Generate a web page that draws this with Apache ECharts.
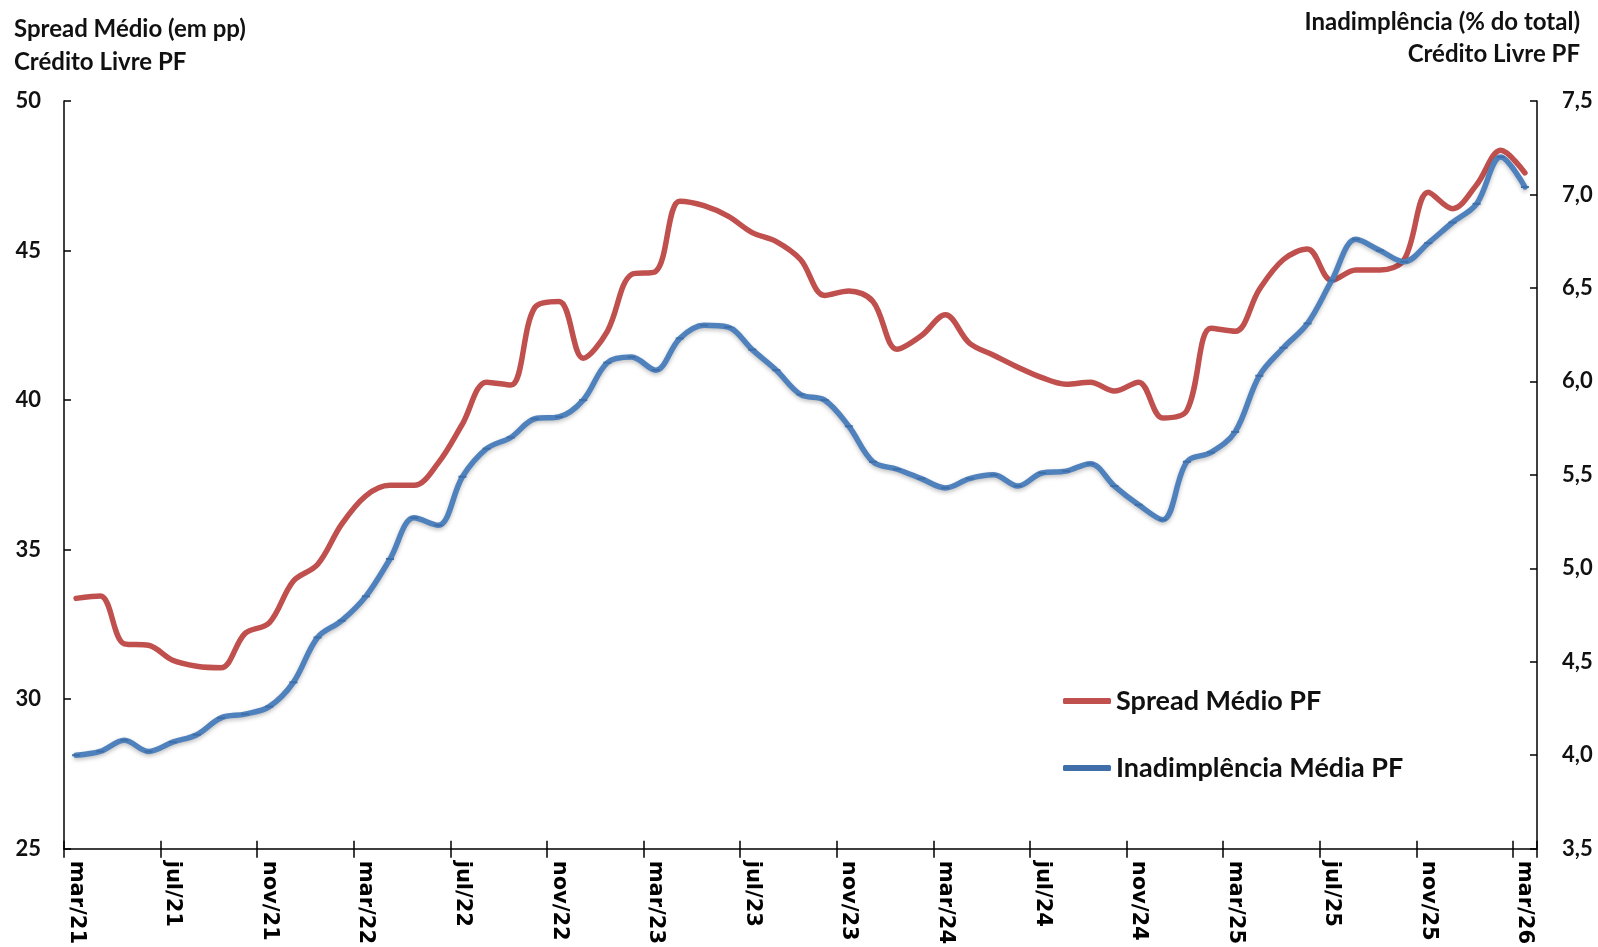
<!DOCTYPE html>
<html>
<head>
<meta charset="utf-8">
<script src="https://cdn.jsdelivr.net/npm/echarts@6/dist/echarts.min.js"></script>
<style>
html,body{margin:0;padding:0;background:#fff;}
#chart{width:1598px;height:947px;}
</style>
</head>
<body>
<div id="chart"></div>
<script>
const months = ['mar/21','abr/21','mai/21','jun/21','jul/21','ago/21','set/21','out/21','nov/21','dez/21',
'jan/22','fev/22','mar/22','abr/22','mai/22','jun/22','jul/22','ago/22','set/22','out/22','nov/22','dez/22',
'jan/23','fev/23','mar/23','abr/23','mai/23','jun/23','jul/23','ago/23','set/23','out/23','nov/23','dez/23',
'jan/24','fev/24','mar/24','abr/24','mai/24','jun/24','jul/24','ago/24','set/24','out/24','nov/24','dez/24',
'jan/25','fev/25','mar/25','abr/25','mai/25','jun/25','jul/25','ago/25','set/25','out/25','nov/25','dez/25',
'jan/26','fev/26','mar/26'];

const spreadMedio = [33.37,33.45,31.85,31.8,31.3,31.1,31.05,32.2,32.55,33.95,34.5,35.85,36.8,37.15,37.15,37.9,39.2,40.6,40.5,43.1,43.3,
41.4,42.3,44.2,44.3,46.65,46.5,46.15,45.6,45.3,44.7,
43.5,43.65,43.3,41.7,42.15,42.85,41.9,41.5,41.1,40.75,
40.53,40.6,40.3,40.6,39.4,39.65,42.4,42.3,43.7,44.7,
45.05,44.0,44.35,44.35,44.7,46.95,46.4,47.2,48.35,47.6];

const inadimplencia = [4.0,4.02,4.08,4.02,4.07,4.11,4.2,4.22,4.26,4.39,4.63,4.72,4.85,5.05,5.27,5.23,5.49,5.64,5.70,5.80,5.81,
5.90,6.10,6.13,6.06,6.23,6.30,6.29,6.17,6.06,5.93,
5.90,5.76,5.57,5.53,5.48,5.43,5.48,5.50,5.44,5.51,
5.52,5.56,5.44,5.34,5.26,5.57,5.62,5.73,6.03,6.18,
6.31,6.54,6.76,6.70,6.64,6.74,6.85,6.95,7.20,7.04];

const leftTicks = [25,30,35,40,45,50];
const rightTicks = ['3,5','4,0','4,5','5,0','5,5','6,0','6,5','7,0','7,5'];

const chart = echarts.init(document.getElementById('chart'), null, {renderer:'canvas'});
const titleFont = {fontFamily:'Lato', fontWeight:'bold', fontSize:24, color:'#111'};
const option = {
  backgroundColor:'#fff',
  animation:false,
  title:[
    {text:'Spread Médio (em pp)', left:14, top:17, padding:0, textStyle:titleFont},
    {text:'Crédito Livre PF', left:14, top:50, padding:0, textStyle:titleFont},
    {text:'Inadimplência (% do total)', right:18, top:10, padding:0, textStyle:titleFont},
    {text:'Crédito Livre PF', right:18, top:42, padding:0, textStyle:titleFont}
  ],
  legend:{
    orient:'vertical', left:1063, top:686, padding:0, itemWidth:48, itemHeight:6, itemGap:37,
    icon:'roundRect',
    textStyle:{fontFamily:'Lato', fontWeight:'bold', fontSize:27, color:'#111', lineHeight:30},
    data:['Spread Médio PF','Inadimplência Média PF']
  },
  grid:{left:64, right:61, top:101, bottom:96, containLabel:false},
  xAxis:[
    {type:'category', data:months, boundaryGap:true,
     axisLine:{show:true, lineStyle:{color:'#000', width:1.5}},
     axisTick:{show:true, interval:3, length:9, lineStyle:{color:'#000', width:1.5}},
     axisLabel:{interval:3, rotate:-90, margin:12, fontFamily:'DejaVu Sans', fontWeight:'bold', fontSize:21, color:'#000'},
     splitLine:{show:false}},
    {type:'category', data:months, boundaryGap:true, position:'bottom',
     axisLine:{show:false},
     axisTick:{show:true, inside:true, interval:3, length:8, lineStyle:{color:'#000', width:1.5}},
     axisLabel:{show:false}, splitLine:{show:false}}
  ],
  yAxis:[
    {type:'value', min:25, max:50, interval:5, position:'left',
     axisLine:{show:true, lineStyle:{color:'#000', width:1.5}},
     axisTick:{show:true, inside:true, length:7, lineStyle:{color:'#000', width:1.5}},
     axisLabel:{margin:23, fontFamily:'Lato', fontWeight:'bold', fontSize:22, color:'#111',
       formatter:v=>String(leftTicks[leftTicks.indexOf(v)])},
     splitLine:{show:false}},
    {type:'value', min:3.5, max:7.5, interval:0.5, position:'right',
     axisLine:{show:true, lineStyle:{color:'#000', width:1.5}},
     axisTick:{show:true, inside:true, length:7, lineStyle:{color:'#000', width:1.5}},
     axisLabel:{margin:25, fontFamily:'Lato', fontWeight:'bold', fontSize:22, color:'#111',
       formatter:v=>rightTicks[Math.round((v-3.5)/0.5)]},
     splitLine:{show:false}}
  ],
  series:[
    {name:'Spread Médio PF', type:'line', xAxisIndex:0, yAxisIndex:0, data:spreadMedio,
     smooth:0.35, showSymbol:false, symbol:'none',
     lineStyle:{color:'#C0504D', width:5.5, cap:'round', join:'round'},
     itemStyle:{color:'#C0504D'}},
    {name:'Inadimplência Média PF', type:'line', xAxisIndex:0, yAxisIndex:1, data:inadimplencia,
     smooth:0.35, showSymbol:true, symbol:'rect', symbolSize:[8,2],
     lineStyle:{color:'#4F81BD', width:5.5, cap:'round', join:'round',
       shadowColor:'rgba(0,0,0,0.25)', shadowBlur:4, shadowOffsetY:2},
     itemStyle:{color:'#3f6fa8'}}
  ]
};
chart.setOption(option);
</script>
</body>
</html>
